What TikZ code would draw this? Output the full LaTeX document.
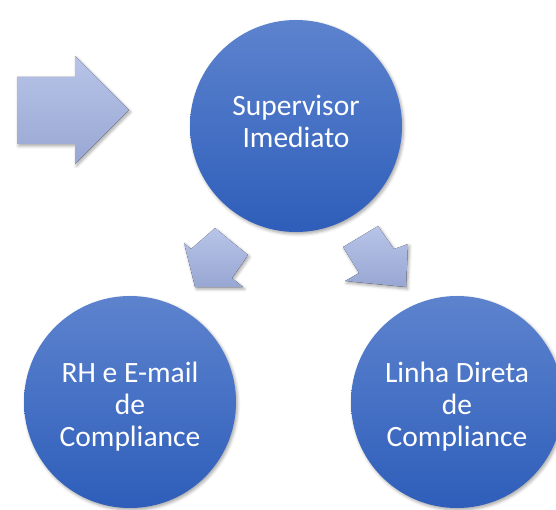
\documentclass[tikz,border=0pt]{standalone}
\usepackage{fontspec}
\setmainfont{Carlito}
\usetikzlibrary{shadows.blur}
\definecolor{discTop}{RGB}{93,131,206}
\definecolor{discBot}{RGB}{46,94,186}
\definecolor{arrowTop}{RGB}{184,196,232}
\definecolor{arrowBot}{RGB}{152,167,211}
\tikzset{
  softshadow/.style={blur shadow={shadow blur radius=3pt,shadow xshift=1.5pt,shadow yshift=-2pt,shadow opacity=35}},
  disc/.style={circle,minimum size=212pt,inner sep=0pt,draw=none,
    top color=discTop,bottom color=discBot,softshadow},
  caption/.style={text=white,align=center,inner sep=0pt,font=\fontsize{29.5}{32}\selectfont},
  pointer/.style={draw=none,top color=arrowTop,bottom color=arrowBot,softshadow}
}
\begin{document}
\begin{tikzpicture}[x=1pt,y=-1pt]
\useasboundingbox (0,0) rectangle (556,510);
% arrows
\fill[pointer] (17,77) -- (75,77) -- (75,56) -- (129,110) -- (75,164) -- (75,144) -- (17,144) -- cycle;
\fill[pointer] (195,287) -- (184,243) -- (191,249) -- (215,228) -- (248,255) -- (232,278) -- (243,287) -- cycle;
\fill[pointer] (343,247) -- (378,226) -- (394,249) -- (408,244) -- (406,287) -- (345,281) -- (359,273) -- cycle;
% circles
\node[disc] (sup) at (296,126) {};
\node[disc] (rh) at (130,402) {};
\node[disc] (linha) at (457,402) {};
% texts
\node[caption,yshift=5pt] (supText) at (sup) {Supervisor\\Imediato};
\node[caption,yshift=-5pt] (rhText) at (rh) {RH e E-mail\\de\\Compliance};
\node[caption,yshift=-5pt] (linhaText) at (linha) {Linha Direta\\de\\Compliance};
\end{tikzpicture}
\end{document}
